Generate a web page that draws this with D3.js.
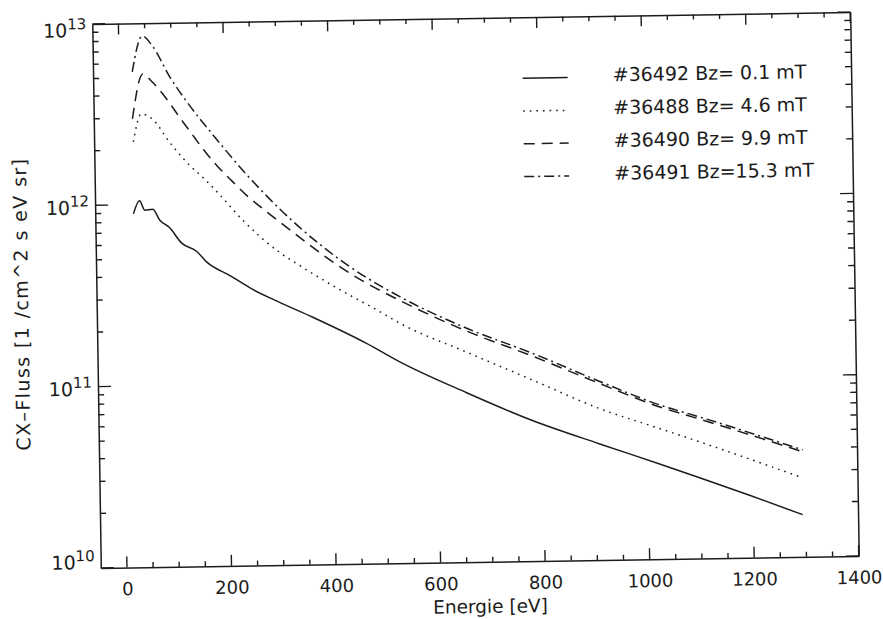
<!DOCTYPE html>
<html>
<head>
<meta charset="utf-8">
<script src="https://cdn.jsdelivr.net/npm/d3@7"></script>
<style>
    body { margin: 0; background: #fff; }
    svg { display: block; font-family: "DejaVu Sans", sans-serif; }
    .axis path { stroke: #1c1c1c; stroke-width: 1.5; }
    .axis text { font-size: 18px; fill: #1c1c1c; font-family: "DejaVu Sans", sans-serif; }
    .tick-mark { stroke: #1c1c1c; stroke-width: 1.4; }
    .curve { fill: none; stroke: #1c1c1c; stroke-width: 1.5; }
</style>
</head>
<body>
<svg id="chart" width="883" height="619"></svg>
<script>
"use strict";

// Energy [eV] / CX flux pairs.
const energy36492 = [23, 35, 45, 60, 73, 92, 114, 143, 162, 205, 249, 300, 363, 465, 528, 655, 780, 908, 1022, 1098, 1193, 1294];
const flux36492 = [8.9e11, 1.05e12, 9.3e11, 9.4e11, 8.2e11, 7.4e11, 6.1e11, 5.45e11, 4.75e11, 4.0e11, 3.33e11, 2.81e11,
    2.31e11, 1.64e11, 1.29e11, 8.6e10, 5.96e10, 4.37e10, 3.35e10, 2.79e10, 2.21e10, 1.71e10];

const energy36488 = [25, 41, 62, 94, 126, 164, 188, 230, 301, 339, 415, 485, 530, 656, 782, 909, 1023, 1099, 1295];
const flux36488 = [2.22e12, 3.16e12, 2.96e12, 2.20e12, 1.70e12, 1.33e12, 1.12e12, 8.15e11, 5.31e11, 4.48e11, 3.27e11,
    2.51e11, 2.1e11, 1.44e11, 9.95e10, 6.84e10, 5.25e10, 4.4e10, 2.73e10];

const energy36490 = [24, 45, 63, 90, 114, 137, 161, 183, 214, 240, 270, 302, 429, 554, 657, 782, 910, 1024, 1100, 1296];
const flux36490 = [2.97e12, 5.25e12, 4.73e12, 3.80e12, 3.01e12, 2.43e12, 1.95e12, 1.63e12, 1.31e12, 1.10e12, 9.29e11,
    7.83e11, 4.12e11, 2.59e11, 1.88e11, 1.35e11, 9.4e10, 6.9e10, 5.87e10, 3.8e10];

const energy36491 = [25, 45, 64, 96, 128, 177, 233, 303, 429, 530, 657, 782, 910, 1024, 1100, 1296];
const flux36491 = [5.4e12, 8.5e12, 7.5e12, 5.07e12, 3.67e12, 2.40e12, 1.52e12, 9.2e11, 4.49e11, 2.95e11, 1.95e11,
    1.40e11, 9.66e10, 7.08e10, 6.03e10, 3.89e10];

const legendLabels = ["#36492 Bz= 0.1 mT", "#36488 Bz= 4.6 mT", "#36490 Bz= 9.9 mT", "#36491 Bz=15.3 mT"];
const xMajorTicks = [0, 200, 400, 600, 800, 1000, 1200, 1400];
const yDecades = [1e10, 1e11, 1e12, 1e13];

const series = [
    {energy: energy36492, flux: flux36492, dash: null},
    {energy: energy36488, flux: flux36488, dash: "1.6,5"},
    {energy: energy36490, flux: flux36490, dash: "11,7"},
    {energy: energy36491, flux: flux36491, dash: "10,4,2,4"}
];

const margin = {left: 96.5, top: 18};
const width = 758, height = 544;

const svg = d3.select("#chart");
// the scanned page is slightly tilted
const root = svg.append("g").attr("transform", "rotate(-0.9,475.5,290)");
const g = root.append("g").attr("transform", `translate(${margin.left},${margin.top})`);

const x = d3.scaleLinear().domain([-50, 1400]).range([0, width]);
const y = d3.scaleLog().domain([1e10, 1e13]).range([height, 0]);

const xMinorTicks = d3.range(0, 1401, 50).filter(v => v % 200 !== 0);
const yMinorTicks = [];
yDecades.slice(0, -1).forEach(d => {
    for (let k = 2; k <= 9; ++k) yMinorTicks.push(d * k);
});

// Frame and x labels from d3 axes (no tick lines here, they are drawn inward below).
g.append("g").attr("class", "axis").attr("transform", `translate(0,${height})`)
    .call(d3.axisBottom(x).tickValues(xMajorTicks).tickSize(0).tickPadding(15).tickFormat(d3.format("d")))
    .selectAll("text").attr("dy", "0.71em");
g.append("g").attr("class", "axis")
    .call(d3.axisTop(x).tickValues([]).tickSize(0));
g.append("g").attr("class", "axis")
    .call(d3.axisLeft(y).tickValues([]).tickSize(0));
g.append("g").attr("class", "axis").attr("transform", `translate(${width},0)`)
    .call(d3.axisRight(y).tickValues([]).tickSize(0));

// Inward tick marks on all four sides.
const ticks = g.append("g");
function xTicks(values, len) {
    [[height, -len], [0, len]].forEach(([y0, dir]) => {
        ticks.selectAll(null).data(values).enter().append("line")
            .attr("class", "tick-mark")
            .attr("x1", d => x(d)).attr("x2", d => x(d))
            .attr("y1", y0).attr("y2", y0 + dir);
    });
}
function yTicks(values, len) {
    [[0, len], [width, -len]].forEach(([x0, dir]) => {
        ticks.selectAll(null).data(values).enter().append("line")
            .attr("class", "tick-mark")
            .attr("y1", d => y(d)).attr("y2", d => y(d))
            .attr("x1", x0).attr("x2", x0 + dir);
    });
}
xTicks(xMajorTicks, 11);
xTicks(xMinorTicks, 5);
yTicks(yDecades, 13);
yTicks(yMinorTicks, 6);

// Decade labels 10^n, kept inside the frame's height at both ends.
const yLabels = g.append("g").attr("fill", "#1c1c1c");
yDecades.forEach(d => {
    const base = Math.min(Math.max(y(d) + 9, 13), height + 1);
    const t = yLabels.append("text")
        .attr("x", -6)
        .attr("y", base)
        .attr("text-anchor", "end")
        .attr("font-size", 19);
    t.append("tspan").text("10");
    t.append("tspan").attr("dy", -8).attr("font-size", 15).text(Math.round(Math.log10(d)));
});

// Axis titles
g.append("text")
    .attr("x", x(700) - 3)
    .attr("y", height + 51)
    .attr("text-anchor", "middle")
    .attr("font-size", 18.5)
    .attr("fill", "#1c1c1c")
    .text("Energie [eV]");

g.append("text")
    .attr("transform", `translate(${28 - margin.left},${297 - margin.top}) rotate(-90)`)
    .attr("text-anchor", "middle")
    .attr("font-size", 19)
    .attr("letter-spacing", 1.4)
    .attr("fill", "#1c1c1c")
    .text("CX\u2013Fluss [1 /cm^2 s eV sr]");

// Curves
const line = d3.line()
    .x(d => x(d[0]))
    .y(d => y(d[1]))
    .curve(d3.curveMonotoneX);

series.forEach(s => {
    const pts = s.energy.map((e, i) => [e, s.flux[i]]);
    g.append("path")
        .datum(pts)
        .attr("class", "curve")
        .attr("stroke-dasharray", s.dash)
        .attr("d", line);
});

// Legend
const legend = root.append("g");
series.forEach((s, i) => {
    const rowY = 79 + i * 32.8;
    legend.append("line")
        .attr("class", "curve")
        .attr("x1", 526).attr("x2", 571)
        .attr("y1", rowY).attr("y2", rowY)
        .attr("stroke-dasharray", s.dash);
    legend.append("text")
        .attr("x", 616)
        .attr("y", rowY + 4.5)
        .attr("font-size", 19)
        .attr("fill", "#1c1c1c")
        .text(legendLabels[i]);
});
</script>
</body>
</html>
